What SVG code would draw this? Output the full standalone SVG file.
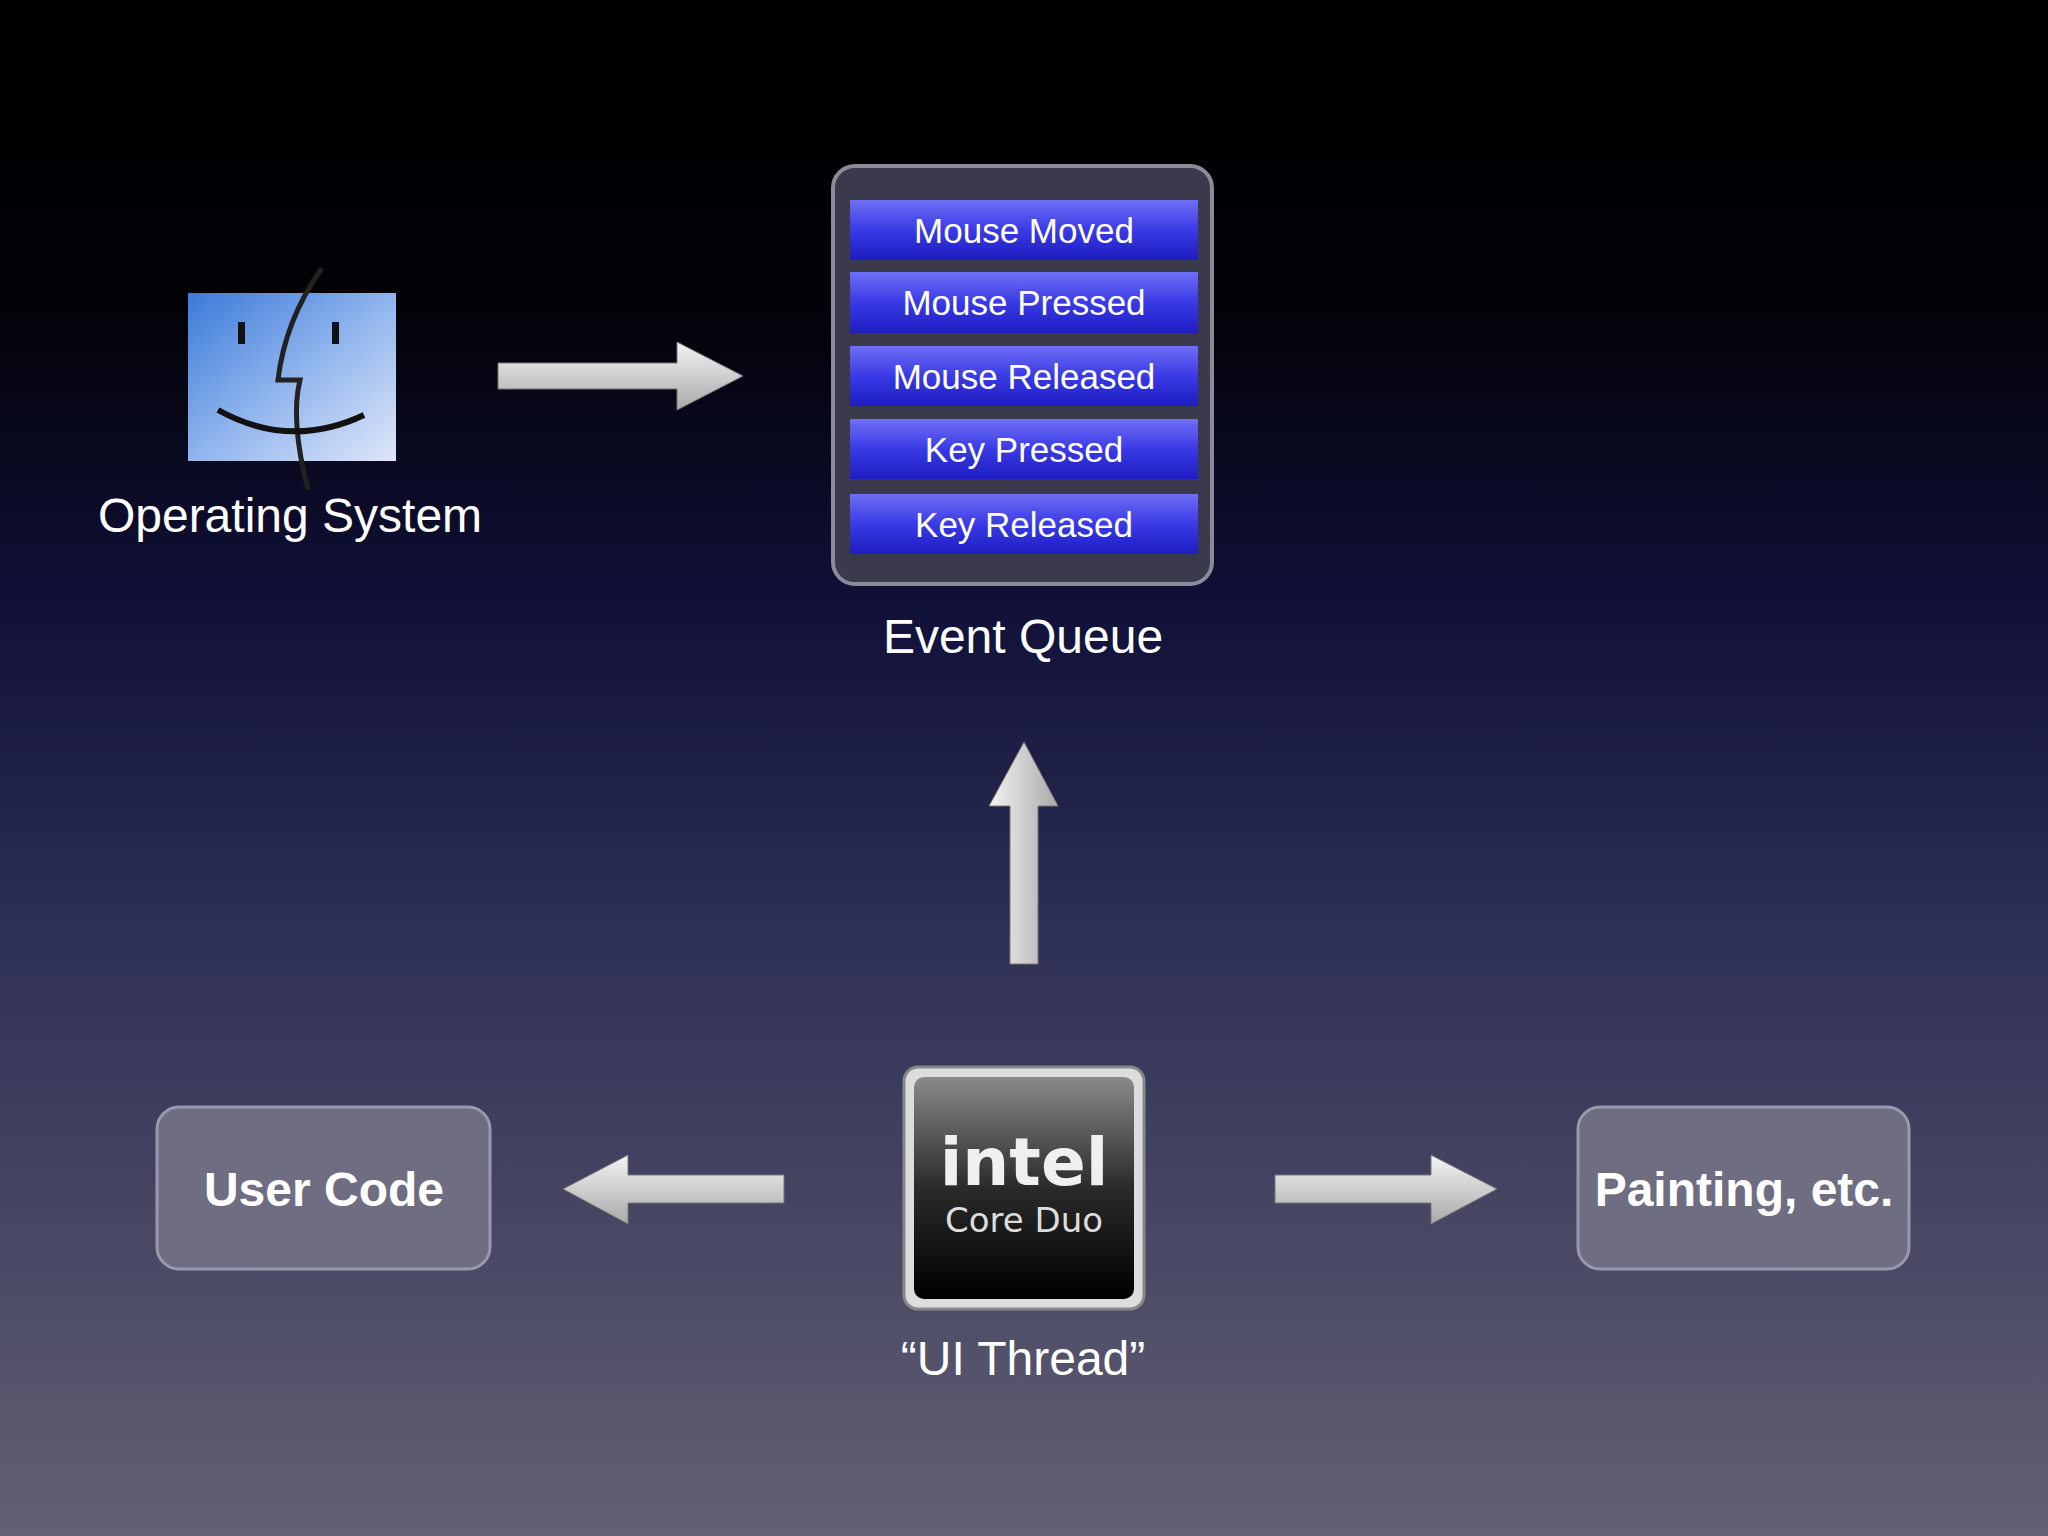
<svg xmlns="http://www.w3.org/2000/svg" width="2048" height="1536" viewBox="0 0 2048 1536">
<defs>
<linearGradient id="bg" x1="0" y1="0" x2="0" y2="1">
<stop offset="0" stop-color="#000"/><stop offset="0.2" stop-color="#020208"/><stop offset="0.4" stop-color="#11113a"/><stop offset="0.62" stop-color="#303156"/><stop offset="1" stop-color="#626073"/>
</linearGradient>
<linearGradient id="arr" x1="0" y1="0" x2="0" y2="1"><stop offset="0" stop-color="#f4f4f4"/><stop offset="1" stop-color="#a9a9a9"/></linearGradient>
<linearGradient id="arrv" x1="0" y1="0" x2="1" y2="0"><stop offset="0" stop-color="#f4f4f4"/><stop offset="1" stop-color="#a9a9a9"/></linearGradient>
<linearGradient id="item" x1="0" y1="0" x2="0" y2="1"><stop offset="0" stop-color="#6f6ff5"/><stop offset="0.5" stop-color="#3a3ae6"/><stop offset="1" stop-color="#1d1dc0"/></linearGradient>
<linearGradient id="finder" x1="0" y1="0" x2="1" y2="1"><stop offset="0" stop-color="#3c7ad8"/><stop offset="0.5" stop-color="#8fb4ee"/><stop offset="1" stop-color="#dfe7f8"/></linearGradient>
<linearGradient id="chip" x1="0" y1="0" x2="0" y2="1"><stop offset="0" stop-color="#8a8a8a"/><stop offset="0.5" stop-color="#2a2a2a"/><stop offset="1" stop-color="#000"/></linearGradient>
<style>
.t{font-family:"Liberation Sans",Arial,sans-serif;fill:#fff;text-anchor:middle}
.it{font-size:35px}
.box{fill:#6e6d82;stroke:#9a99ab;stroke-width:3}
</style>
</defs>
<rect width="2048" height="1536" fill="url(#bg)"/>
<g id="os">
<rect x="188" y="293" width="208" height="168" fill="url(#finder)"/>
<path d="M322 268 Q285 320 278 380 L300 380 Q290 420 308 490" fill="none" stroke="#222" stroke-width="5"/>
<path d="M218 410 Q290 450 364 415" fill="none" stroke="#111" stroke-width="6"/>
<rect x="238" y="322" width="7" height="22" fill="#111"/><rect x="332" y="322" width="7" height="22" fill="#111"/>
<text class="t" x="290" y="532" font-size="48">Operating System</text>
</g>
<g id="queue">
<rect x="833" y="166" width="379" height="418" rx="22" fill="#3a3a4c" stroke="#8b8a9a" stroke-width="4"/>
<rect x="850" y="200" width="348" height="60" fill="url(#item)"/>
<rect x="850" y="272" width="348" height="61" fill="url(#item)"/>
<rect x="850" y="346" width="348" height="60" fill="url(#item)"/>
<rect x="850" y="419" width="348" height="60" fill="url(#item)"/>
<rect x="850" y="494" width="348" height="60" fill="url(#item)"/>
<text class="t it" x="1024" y="243">Mouse Moved</text>
<text class="t it" x="1024" y="315">Mouse Pressed</text>
<text class="t it" x="1024" y="389">Mouse Released</text>
<text class="t it" x="1024" y="462">Key Pressed</text>
<text class="t it" x="1024" y="537">Key Released</text>
<text class="t" x="1023" y="653" font-size="48">Event Queue</text>
</g>
<g id="cpu">
<rect x="904" y="1067" width="240" height="242" rx="14" fill="#ddd" stroke="#888" stroke-width="3"/>
<rect x="914" y="1077" width="220" height="222" rx="10" fill="url(#chip)"/>
<text x="1024" y="1185" font-family="'DejaVu Sans',sans-serif" font-weight="bold" font-size="66" fill="#f0f0f0" text-anchor="middle">intel</text>
<text x="1024" y="1232" font-family="'DejaVu Sans',sans-serif" font-size="34" fill="#ddd" text-anchor="middle">Core Duo</text>
<text class="t" x="1023" y="1375" font-size="48">“UI Thread”</text>
</g>
<g id="user">
<rect class="box" x="157" y="1107" width="333" height="162" rx="22"/>
<text class="t" x="324" y="1206" font-size="48" font-weight="bold">User Code</text>
</g>
<g id="paint">
<rect class="box" x="1578" y="1107" width="331" height="162" rx="22"/>
<text class="t" x="1744" y="1206" font-size="48" font-weight="bold">Painting, etc.</text>
</g>
<g id="connectors" stroke="#777" stroke-width="1">
<path d="M498 363 H677 V342 L743 376 L677 410 V389 H498 Z" fill="url(#arr)"/>
<path d="M1010 964 V806 H989 L1024 742 L1058 806 H1038 V964 Z" fill="url(#arrv)"/>
<path d="M784 1175 H628 V1155 L563 1189 L628 1224 V1203 H784 Z" fill="url(#arr)"/>
<path d="M1275 1175 H1431 V1155 L1497 1189 L1431 1224 V1203 H1275 Z" fill="url(#arr)"/>
</g>
</svg>
